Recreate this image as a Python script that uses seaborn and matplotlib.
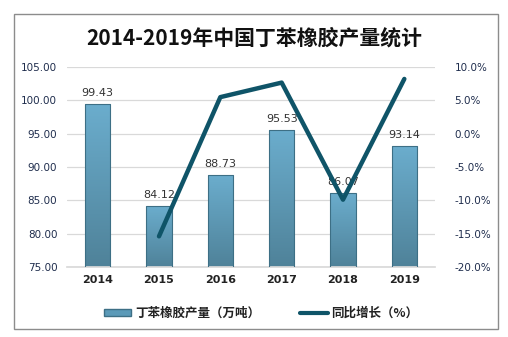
import numpy as np
import pandas as pd
import matplotlib
matplotlib.use("Agg")
import matplotlib.pyplot as plt
import seaborn as sns
from matplotlib.patches import Rectangle
from matplotlib.lines import Line2D
from matplotlib.ticker import FuncFormatter
from matplotlib.colors import LinearSegmentedColormap

years = ["2014", "2015", "2016", "2017", "2018", "2019"]
output = [99.43, 84.12, 88.73, 95.53, 86.07, 93.14]
growth = [np.nan, -15.4, 5.48, 7.66, -9.9, 8.21]
left_ticks = [75, 80, 85, 90, 95, 100, 105]
right_ticks = [-20, -15, -10, -5, 0, 5, 10]
title = "2014-2019年中国丁苯橡胶产量统计"
bar_label = "丁苯橡胶产量（万吨）"
line_label = "同比增长（%）"

sns.set_theme(style="white")
plt.rcParams['font.family'] = ['Noto Sans CJK SC', 'DejaVu Sans']

W, H = 508, 337
fig = plt.figure(figsize=(W / 100, H / 100), dpi=100)
ax = fig.add_axes([67 / W, 1 - 267 / H, (435 - 67) / W, 200 / H])

df = pd.DataFrame({"year": years, "output": output, "growth": growth})
sns.barplot(data=df, x="year", y="output", ax=ax, width=0.41,
            color="#5b9ab8", edgecolor="#3d6f85", linewidth=0.8, zorder=2)

ax.set_ylim(75, 105)
ax.set_xlim(-0.5, len(years) - 0.5)
ax.set_yticks(left_ticks)
ax.yaxis.set_major_formatter(FuncFormatter(lambda v, p: f"{v:.2f}"))
ax.grid(axis="y", color="#d9d9d9", linewidth=0.9, zorder=0)
ax.set_axisbelow(True)
for s in ax.spines.values():
    s.set_visible(False)
ax.spines["bottom"].set_visible(True)
ax.spines["bottom"].set_color("#d9d9d9")
ax.set_xlabel("")
ax.set_ylabel("")
ax.tick_params(axis="y", length=0, pad=7, labelsize=7.5, labelcolor="#1f2d4d")
ax.tick_params(axis="x", length=0, pad=6, labelsize=8, labelcolor="#222222")
for t in ax.get_xticklabels():
    t.set_fontweight("bold")
    t.set_family("DejaVu Sans")
for t in ax.get_yticklabels():
    t.set_family("DejaVu Sans")

# gradient fill clipped to bars
grad = np.linspace(0, 1, 256).reshape(-1, 1)
cmap = LinearSegmentedColormap.from_list("g", ["#4f8299", "#6badcd"])
for p in ax.patches:
    x0, y0 = p.get_x(), p.get_y()
    w, h = p.get_width(), p.get_height()
    im = ax.imshow(grad, extent=[x0, x0 + w, 75, y0 + h], origin="lower",
                   cmap=cmap, aspect="auto", zorder=2.5)
    im.set_clip_path(p)
    p.set_facecolor("none")
    p.set_zorder(3)
ax.set_xlim(-0.5, len(years) - 0.5)
ax.set_ylim(75, 105)

for i, v in enumerate(output):
    ax.text(i, v + 0.9, f"{v:.2f}", ha="center", va="bottom", fontsize=8,
            color="#333333", family="DejaVu Sans", zorder=4)

ax2 = ax.twinx()
sns.lineplot(x=np.arange(len(years)), y=df["growth"], ax=ax2, color="#0f5468",
             linewidth=3.2, zorder=5)
ax2.set_ylim(-20, 10)
ax2.set_yticks(right_ticks)
ax2.yaxis.set_major_formatter(FuncFormatter(lambda v, p: f"{v:.1f}%"))
ax2.set_ylabel("")
for s in ax2.spines.values():
    s.set_visible(False)
ax2.tick_params(axis="y", length=0, pad=14, labelsize=7.5, labelcolor="#1f2d4d")
for t in ax2.get_yticklabels():
    t.set_family("DejaVu Sans")
ax2.grid(False)
ax2.set_xlim(-0.5, len(years) - 0.5)

fig.text(0.5, 1 - 38 / H, title, ha="center", va="center", fontsize=15,
         color="#111111", fontweight="bold")

handles = [Rectangle((0, 0), 1, 1, facecolor="#5b9ab8", edgecolor="#3d6f85"),
           Line2D([0], [0], color="#0f5468", linewidth=3)]
leg = fig.legend(handles, [bar_label, line_label], loc="center",
                 bbox_to_anchor=(0.514, 1 - 313 / H), ncol=2, frameon=False,
                 fontsize=9, handlelength=2.2, handleheight=0.5,
                 columnspacing=3.2, handletextpad=0.3)
for t in leg.get_texts():
    t.set_fontweight("bold")
    t.set_color("#222222")

fig.patches.append(Rectangle((14 / W, 1 - 329 / H), (498 - 14) / W, (329 - 14) / H,
                             transform=fig.transFigure, fill=False,
                             edgecolor="#8c8c8c", linewidth=1.0))

fig.savefig("out.png", dpi=100)
